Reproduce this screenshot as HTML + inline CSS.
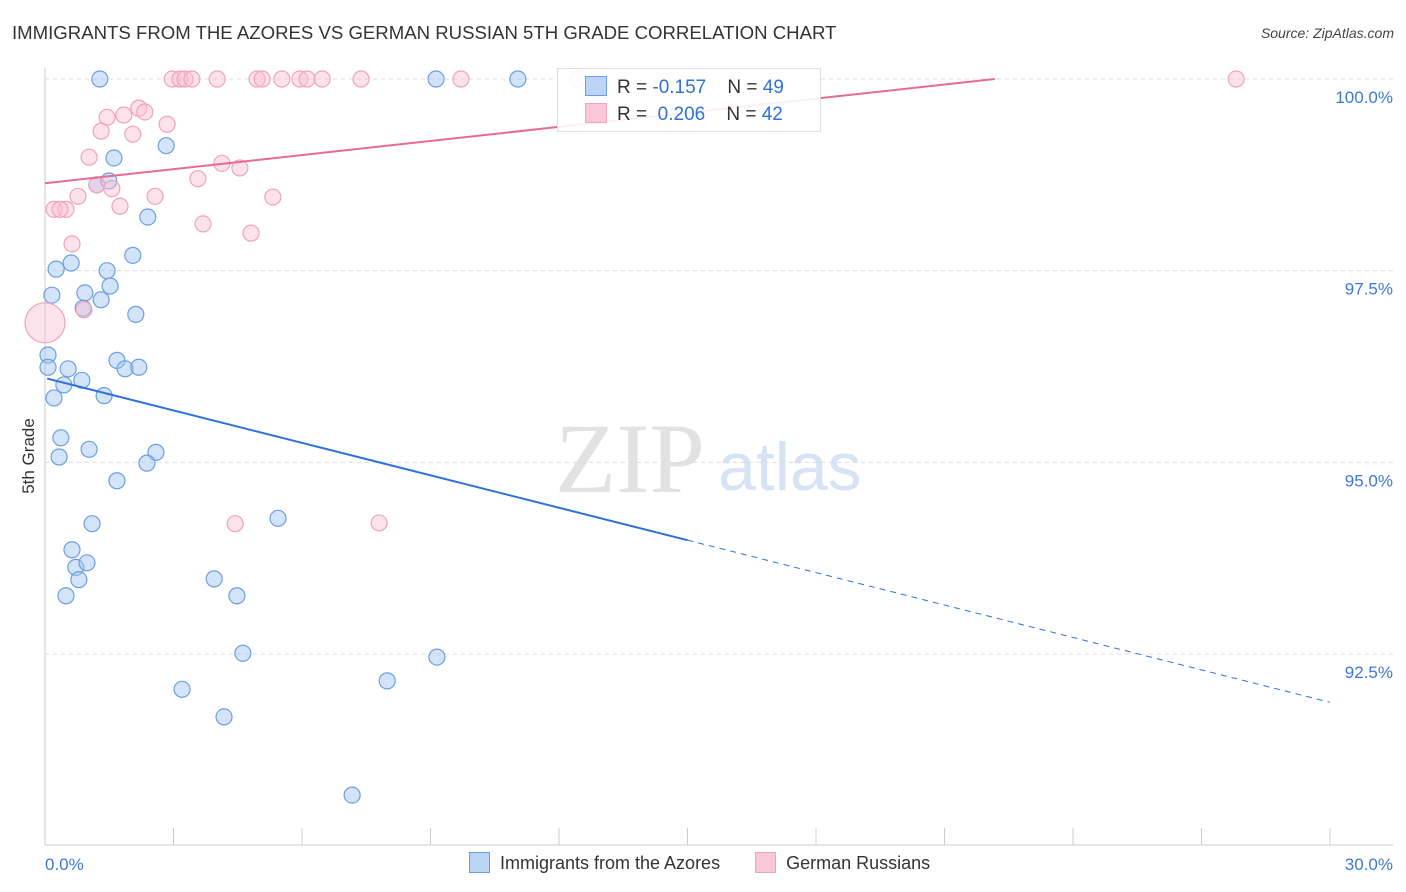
<!DOCTYPE html>
<html><head><meta charset="utf-8">
<style>
body{margin:0;background:#fff;font-family:"Liberation Sans",sans-serif;}
#wrap{position:relative;width:1406px;height:892px;overflow:hidden;}
.title{position:absolute;left:12px;top:22px;font-size:18.6px;color:#333;white-space:nowrap;}
.source{position:absolute;right:12px;top:25px;font-size:14px;color:#444;font-style:italic;}
</style></head><body>
<div id="wrap">
<div class="title">IMMIGRANTS FROM THE AZORES VS GERMAN RUSSIAN 5TH GRADE CORRELATION CHART</div>
<div class="source">Source: ZipAtlas.com</div>
<svg id="svg" width="1406" height="892" style="position:absolute;left:0;top:0"></svg>
</div>
<script>
const blueX=[1.28,9.13,11.04,1.61,2.83,1.21,1.49,2.40,2.05,0.26,0.61,1.45,0.16,0.93,1.52,1.31,0.89,2.12,0.07,1.68,0.07,0.54,1.87,2.19,0.86,0.44,1.38,0.21,0.37,1.03,2.59,0.33,2.38,1.68,1.10,5.44,0.63,0.72,0.98,0.79,0.49,3.95,4.48,4.62,9.15,3.20,7.99,4.18,7.17];
const blueY=[100,100,100,98.97,99.13,98.62,98.67,98.20,97.70,97.52,97.60,97.50,97.18,97.21,97.30,97.12,97.01,96.93,96.40,96.33,96.24,96.22,96.22,96.24,96.07,96.01,95.87,95.84,95.32,95.17,95.13,95.07,94.99,94.76,94.20,94.27,93.86,93.63,93.69,93.47,93.26,93.48,93.26,92.51,92.46,92.04,92.15,91.68,90.66];
const pinkX=[2.97,3.15,3.27,3.43,4.02,4.95,5.07,5.53,5.95,6.12,6.47,7.38,9.71,12.44,27.81,2.19,2.33,1.45,1.84,2.85,1.31,2.05,1.03,4.13,4.55,3.57,1.21,1.56,2.57,0.77,5.32,1.75,0.21,0.49,0.35,3.69,4.81,0.63,0.91,0,4.44,7.80];
const pinkY=[100,100,100,100,100,100,100,100,100,100,100,100,100,100,100,99.62,99.57,99.50,99.53,99.41,99.32,99.28,98.98,98.90,98.84,98.70,98.62,98.57,98.47,98.47,98.46,98.34,98.30,98.30,98.30,98.11,97.99,97.85,96.99,96.82,94.20,94.21];
const yTicks=[100,97.5,95,92.5];
const yTickLabels=["100.0%","97.5%","95.0%","92.5%"];
const blueTrend=[96.10,91.87]; // y at x=0 and x=30
const pinkTrend=[98.64,100.48];
const X0=45,X1=1330,Ytop=79,PX=76.67;
const sx=v=>X0+v*(X1-X0)/30;
const sy=v=>Ytop+(100-v)*PX;
const svg=document.getElementById('svg');
const NS='http://www.w3.org/2000/svg';
function mk(t,a){const e=document.createElementNS(NS,t);for(const k in a)e.setAttribute(k,a[k]);svg.appendChild(e);return e;}
let w=mk('text',{x:555,y:492,'font-size':100,'font-family':'Liberation Serif, serif',fill:'#e2e2e2'});w.textContent='ZIP';

w=mk('text',{x:718,y:490,'font-size':68,'font-family':'Liberation Sans, sans-serif',fill:'#d6e3f5'});w.textContent='atlas';

yTicks.forEach((t,i)=>{
 let g=mk('line',{x1:X0,x2:1393,y1:sy(t),y2:sy(t),stroke:'#dcdcdc','stroke-dasharray':'4,4'});
 
 let l=mk('text',{x:1393,y:sy(t)+24,'text-anchor':'end','font-size':17,fill:'#3d78d8'});l.textContent=yTickLabels[i];
 
});
let ax=mk('line',{x1:X0,x2:1393,y1:845,y2:845,stroke:'#ccc'});

ax=mk('line',{x1:X0,x2:X0,y1:68,y2:845,stroke:'#ccc'});

for(let i=0;i<=10;i++){let tk=mk('line',{x1:sx(i*3),x2:sx(i*3),y1:828,y2:845,stroke:'#ccc'});
 }
let t=mk('text',{x:45,y:870,'font-size':17,fill:'#3d78d8'});t.textContent='0.0%';

t=mk('text',{x:1393,y:870,'text-anchor':'end','font-size':17,fill:'#3d78d8'});t.textContent='30.0%';

t=mk('text',{x:34,y:456,'font-size':17,fill:'#333',transform:'rotate(-90 34 456)','text-anchor':'middle'});t.textContent='5th Grade';

blueX.forEach((x,i)=>{let c=mk('circle',{cx:sx(x),cy:sy(blueY[i]),r:8,fill:'rgba(160,196,240,0.45)',stroke:'#6c9fe0','stroke-width':1.2});
 });
pinkX.forEach((x,i)=>{let c=mk('circle',{cx:sx(x),cy:sy(pinkY[i]),r:(x===0?20:8),fill:'rgba(248,190,210,0.45)',stroke:'#f0a3bb','stroke-width':1.2});
 });
const bAt=x=>blueTrend[0]+(blueTrend[1]-blueTrend[0])*x/30;
let l1=mk('line',{x1:sx(0.05),y1:sy(bAt(0.05)),x2:sx(15),y2:sy(bAt(15)),stroke:'#2f72d8','stroke-width':2});

l1=mk('line',{x1:sx(15),y1:sy(bAt(15)),x2:sx(30),y2:sy(bAt(30)),stroke:'#2f72d8','stroke-width':1,'stroke-dasharray':'6,5'});

const pAt=x=>pinkTrend[0]+(pinkTrend[1]-pinkTrend[0])*x/30;
const pEnd=(100-pinkTrend[0])*30/(pinkTrend[1]-pinkTrend[0]);
let l2=mk('line',{x1:sx(0),y1:sy(pAt(0)),x2:sx(pEnd),y2:sy(100),stroke:'#e86a93','stroke-width':2});

</script>
<div style="position:absolute;left:557px;top:68px;width:262px;height:62px;border:1px solid #ddd;background:rgba(255,255,255,0.9);font-size:19px;color:#333;">
 <div style="position:absolute;left:27px;top:7px;white-space:nowrap"><span style="display:inline-block;width:20px;height:18px;background:#bcd4f5;border:1px solid #6c9fe0;vertical-align:-3px;margin-right:10px"></span>R = <span style="color:#2f72d8">-0.157</span>&nbsp;&nbsp;&nbsp; N = <span style="color:#2f72d8">49</span></div>
 <div style="position:absolute;left:27px;top:34px;white-space:nowrap"><span style="display:inline-block;width:20px;height:18px;background:#f9c7d7;border:1px solid #f0a3bb;vertical-align:-3px;margin-right:10px"></span>R = &nbsp;<span style="color:#2f72d8">0.206</span>&nbsp;&nbsp;&nbsp; N = <span style="color:#2f72d8">42</span></div>
</div>
<div style="position:absolute;left:469px;top:852px;font-size:18px;color:#333;white-space:nowrap">
 <span><span style="display:inline-block;width:19px;height:19px;background:#bcd4f5;border:1px solid #6c9fe0;vertical-align:-4px;margin-right:10px"></span>Immigrants from the Azores</span>
 <span style="margin-left:30px"><span style="display:inline-block;width:19px;height:19px;background:#f9c7d7;border:1px solid #f0a3bb;vertical-align:-4px;margin-right:10px"></span>German Russians</span>
</div>
</body></html>
